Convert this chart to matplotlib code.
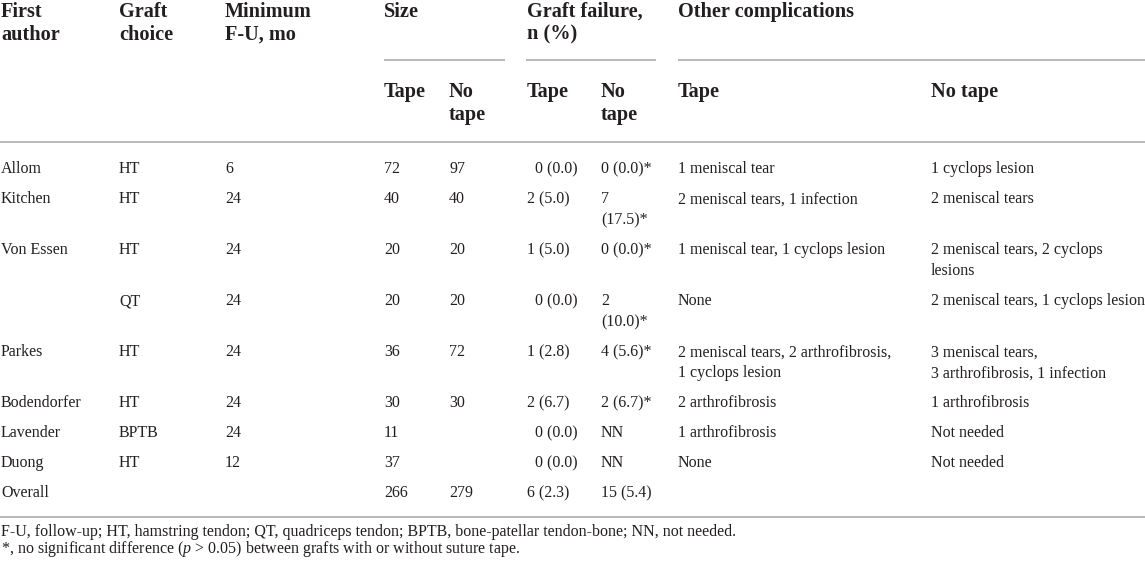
import matplotlib
matplotlib.use('Agg')
import matplotlib.pyplot as plt

plt.rcParams['font.family'] = ['Liberation Serif', 'DejaVu Serif']
plt.rcParams['mathtext.fontset'] = 'custom'
plt.rcParams['mathtext.rm'] = 'Liberation Serif'
plt.rcParams['mathtext.it'] = 'Liberation Serif:italic'

# 表格数据
authors = ["Allom", "Kitchen", "Von Essen", "", "Parkes", "Bodendorfer", "Lavender", "Duong", "Overall"]
grafts = ["HT", "HT", "HT", "QT", "HT", "HT", "BPTB", "HT", ""]
min_fu = ["6", "24", "24", "24", "24", "24", "24", "12", ""]
size_tape = ["72", "40", "20", "20", "36", "30", "11", "37", "266"]
size_notape = ["97", "40", "20", "20", "72", "30", "", "", "279"]
fail_tape = ["  0 (0.0)", "2 (5.0)", "1 (5.0)", "  0 (0.0)", "1 (2.8)", "2 (6.7)", "  0 (0.0)", "  0 (0.0)", "6 (2.3)"]
fail_notape = ["0 (0.0)*", "7\n(17.5)*", "0 (0.0)*", "2\n(10.0)*", "4 (5.6)*", "2 (6.7)*", "NN", "NN", "15 (5.4)"]
other_tape = ["1 meniscal tear", "2 meniscal tears, 1 infection", "1 meniscal tear, 1 cyclops lesion", "None",
              "2 meniscal tears, 2 arthrofibrosis,\n1 cyclops lesion", "2 arthrofibrosis", "1 arthrofibrosis", "None", ""]
other_notape = ["1 cyclops lesion", "2 meniscal tears", "2 meniscal tears, 2 cyclops\nlesions",
                "2 meniscal tears, 1 cyclops lesion", "3 meniscal tears,\n3 arthrofibrosis, 1 infection",
                "1 arthrofibrosis", "Not needed", "Not needed", ""]

headers = ["First\nauthor", "Graft\nchoice", "Minimum\nF-U, mo"]
groups = ["Size", "Graft failure,\nn (%)", "Other complications"]
sub_headers = ["Tape", "No\ntape", "Tape", "No\ntape", "Tape", "No tape"]
footnotes = ["F-U, follow-up; HT, hamstring tendon; QT, quadriceps tendon; BPTB, bone-patellar tendon-bone; NN, not needed.",
             r"*, no significant difference ($\it{p}$ > 0.05) between grafts with or without suture tape."]

# 版式
W, H = 1145, 564
TXT = '#231f20'
RULE = '#a6a6a6'
col_x = [1, 119, 225, 384, 449, 527, 601, 678, 931]
group_x = [(384, 505), (526, 656), (678, 1145)]
body_px, head_px, note_px = 16, 20.3, 16
pt = 72 / 100


def put(x, y, s, px, bold=False, gap=21):
    for i, line in enumerate(s.split('\n')):
        ax.text(x, y + i * gap + px * 0.34, line, fontsize=px * pt, color=TXT,
                fontweight='bold' if bold else 'normal', va='baseline', ha='left')


fig = plt.figure(figsize=(W / 100, H / 100), dpi=100)
ax = fig.add_axes([0, 0, 1, 1])
ax.set_xlim(0, W)
ax.set_ylim(H, 0)
ax.axis('off')

# 表头
for x, s in zip(col_x[:3], headers):
    put(x, 10, s, head_px, bold=True, gap=23)
for (x0, x1), s in zip(group_x, groups):
    put(x0 + (1 if x0 == 526 else 0), 10, s, head_px, bold=True, gap=23)
    ax.plot([x0, x1], [60, 60], color=RULE, lw=1.1, solid_capstyle='butt')
for x, s in zip(col_x[3:], sub_headers):
    put(x, 90, s, head_px, bold=True, gap=23)
ax.plot([0, W], [142, 142], color=RULE, lw=1.1)

# 表体
columns = [authors, grafts, min_fu, size_tape, size_notape, fail_tape, fail_notape, other_tape, other_notape]
y = 168
for r in range(len(authors)):
    cells = [c[r] for c in columns]
    for x, s in zip(col_x, cells):
        if s:
            put(x, y, s, body_px)
    nlines = max(s.count('\n') + 1 for s in cells)
    y += 30 + 21 * (nlines - 1)

ax.plot([0, W], [517, 517], color=RULE, lw=1.1)

# 脚注
for i, s in enumerate(footnotes):
    put(1, 531 + i * 17, s, note_px)

fig.savefig('out.png', dpi=100)
